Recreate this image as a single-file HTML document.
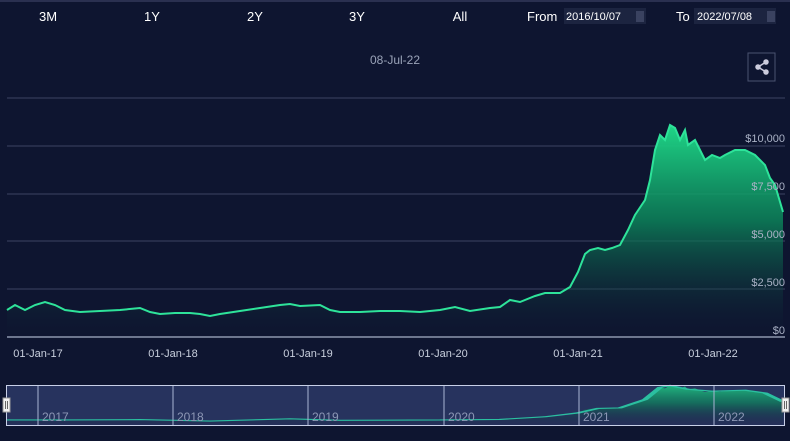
<!DOCTYPE html>
<html><head><meta charset="utf-8"><style>
body{margin:0;width:790px;height:436px;background:#0e1530;overflow:hidden;font-family:"Liberation Sans",sans-serif;}
</style></head><body>
<svg width="790" height="436" viewBox="0 0 790 436" xmlns="http://www.w3.org/2000/svg">
<defs>
<linearGradient id="g" x1="0" y1="0" x2="0" y2="1">
<stop offset="0" stop-color="#1fd687" stop-opacity="1"/>
<stop offset="0.45" stop-color="#0c8a5c" stop-opacity="0.8"/>
<stop offset="1" stop-color="#0e1530" stop-opacity="0.1"/>
</linearGradient>
</defs>
<rect width="790" height="436" fill="#0e1530"/>
<rect width="790" height="2" fill="#2a3050"/>
<g fill="#ffffff" font-size="13">
<text x="48" y="21" text-anchor="middle">3M</text>
<text x="152" y="21" text-anchor="middle">1Y</text>
<text x="255" y="21" text-anchor="middle">2Y</text>
<text x="357" y="21" text-anchor="middle">3Y</text>
<text x="460" y="21" text-anchor="middle">All</text>
<text x="527" y="21">From</text>
<text x="676" y="21">To</text>
</g>
<rect x="564" y="8" width="82" height="16" fill="#1c2440"/>
<rect x="694" y="8" width="82" height="16" fill="#1c2440"/>
<g fill="#ffffff" font-size="11"><text x="566" y="20">2016/10/07</text><text x="697" y="20">2022/07/08</text></g>
<rect x="636" y="11" width="8" height="11" fill="#3a4260"/><rect x="767" y="11" width="8" height="11" fill="#3a4260"/>
<text x="395" y="64" fill="#9aa3b8" font-size="12" text-anchor="middle">08-Jul-22</text>
<rect x="748" y="53" width="27" height="28" fill="none" stroke="#4a5270" stroke-width="1"/>
<g stroke="#ccd" stroke-width="1.5" fill="#ccd"><line x1="758" y1="67" x2="766" y2="62"/><line x1="758" y1="67" x2="766" y2="72"/><circle cx="758" cy="67" r="2"/><circle cx="766" cy="62" r="2"/><circle cx="766" cy="72" r="2"/></g>
<g stroke="#3c4462" stroke-width="1">
<line x1="7" y1="98" x2="785" y2="98"/><line x1="7" y1="146" x2="785" y2="146"/><line x1="7" y1="194" x2="785" y2="194"/><line x1="7" y1="241" x2="785" y2="241"/><line x1="7" y1="289" x2="785" y2="289"/>
</g>
<path id="area" d="M7,310 L15,305 25,310 35,305 45,302 55,305 65,310 80,312 100,311 120,310 140,308 150,312 160,314 175,313 190,313 200,314 210,316 220,314 240,311 260,308 280,305 290,304 300,306 320,305 330,310 340,312 360,312 380,311 400,311 420,312 440,310 455,307 470,311 490,308 500,307 510,300 520,302 535,296 545,293 560,293 570,287 578,272 585,254 590,250 598,248 605,250 612,248 620,245 628,230 635,215 645,200 650,180 655,150 660,135 665,140 670,125 675,128 680,140 685,130 688,145 695,140 700,150 705,160 712,155 720,158 725,155 735,150 745,150 755,155 765,165 770,178 775,185 783,212 L783,337 L7,337 Z" fill="url(#g)"/>
<path id="ln" d="M7,310 L15,305 25,310 35,305 45,302 55,305 65,310 80,312 100,311 120,310 140,308 150,312 160,314 175,313 190,313 200,314 210,316 220,314 240,311 260,308 280,305 290,304 300,306 320,305 330,310 340,312 360,312 380,311 400,311 420,312 440,310 455,307 470,311 490,308 500,307 510,300 520,302 535,296 545,293 560,293 570,287 578,272 585,254 590,250 598,248 605,250 612,248 620,245 628,230 635,215 645,200 650,180 655,150 660,135 665,140 670,125 675,128 680,140 685,130 688,145 695,140 700,150 705,160 712,155 720,158 725,155 735,150 745,150 755,155 765,165 770,178 775,185 783,212" fill="none" stroke="#2ee39a" stroke-width="2"/>
<line x1="7" y1="337" x2="785" y2="337" stroke="#ccd6eb" stroke-width="1"/>
<g fill="#aab2c6" font-size="11" text-anchor="end">
<text x="785" y="142">$10,000</text><text x="785" y="190">$7,500</text><text x="785" y="238">$5,000</text><text x="785" y="286">$2,500</text><text x="785" y="334">$0</text>
</g>
<g fill="#c8cfdd" font-size="11" text-anchor="middle">
<text x="38" y="357">01-Jan-17</text><text x="173" y="357">01-Jan-18</text><text x="308" y="357">01-Jan-19</text><text x="443" y="357">01-Jan-20</text><text x="578" y="357">01-Jan-21</text><text x="713" y="357">01-Jan-22</text>
</g>
<rect x="7" y="385" width="778" height="40" fill="#27335e"/>
<g transform="translate(0,362.3) scale(1,0.186)"><use href="#area" opacity="0.8"/></g>
<g transform="translate(0,362.3) scale(1,0.186)"><path d="M7,310 L65,310 140,308 210,316 290,304 340,312 440,310 500,307 545,293 578,272 598,248 620,245 645,200 660,135 670,125 688,145 712,155 745,150 765,165 783,212" fill="none" stroke="#2bbfa0" stroke-width="6"/></g>
<g stroke="#aab4d4" stroke-width="1">
<line x1="38" y1="385" x2="38" y2="425"/><line x1="173" y1="385" x2="173" y2="425"/><line x1="308" y1="385" x2="308" y2="425"/><line x1="444" y1="385" x2="444" y2="425"/><line x1="579" y1="385" x2="579" y2="425"/><line x1="714" y1="385" x2="714" y2="425"/>
</g>
<rect x="6.5" y="385.5" width="778" height="40" fill="none" stroke="#c8d0e8" stroke-width="1"/>
<g fill="#8d97b5" font-size="12">
<text x="42" y="421">2017</text><text x="177" y="421">2018</text><text x="312" y="421">2019</text><text x="448" y="421">2020</text><text x="583" y="421">2021</text><text x="718" y="421">2022</text>
</g>
<rect x="3" y="398" width="7" height="14" fill="#f2f2f2" stroke="#999"/>
<rect x="782" y="398" width="7" height="14" fill="#f2f2f2" stroke="#999"/>
<g stroke="#666"><line x1="5.5" y1="401" x2="5.5" y2="409"/><line x1="7.5" y1="401" x2="7.5" y2="409"/><line x1="784.5" y1="401" x2="784.5" y2="409"/><line x1="786.5" y1="401" x2="786.5" y2="409"/></g>
</svg>
</body></html>
